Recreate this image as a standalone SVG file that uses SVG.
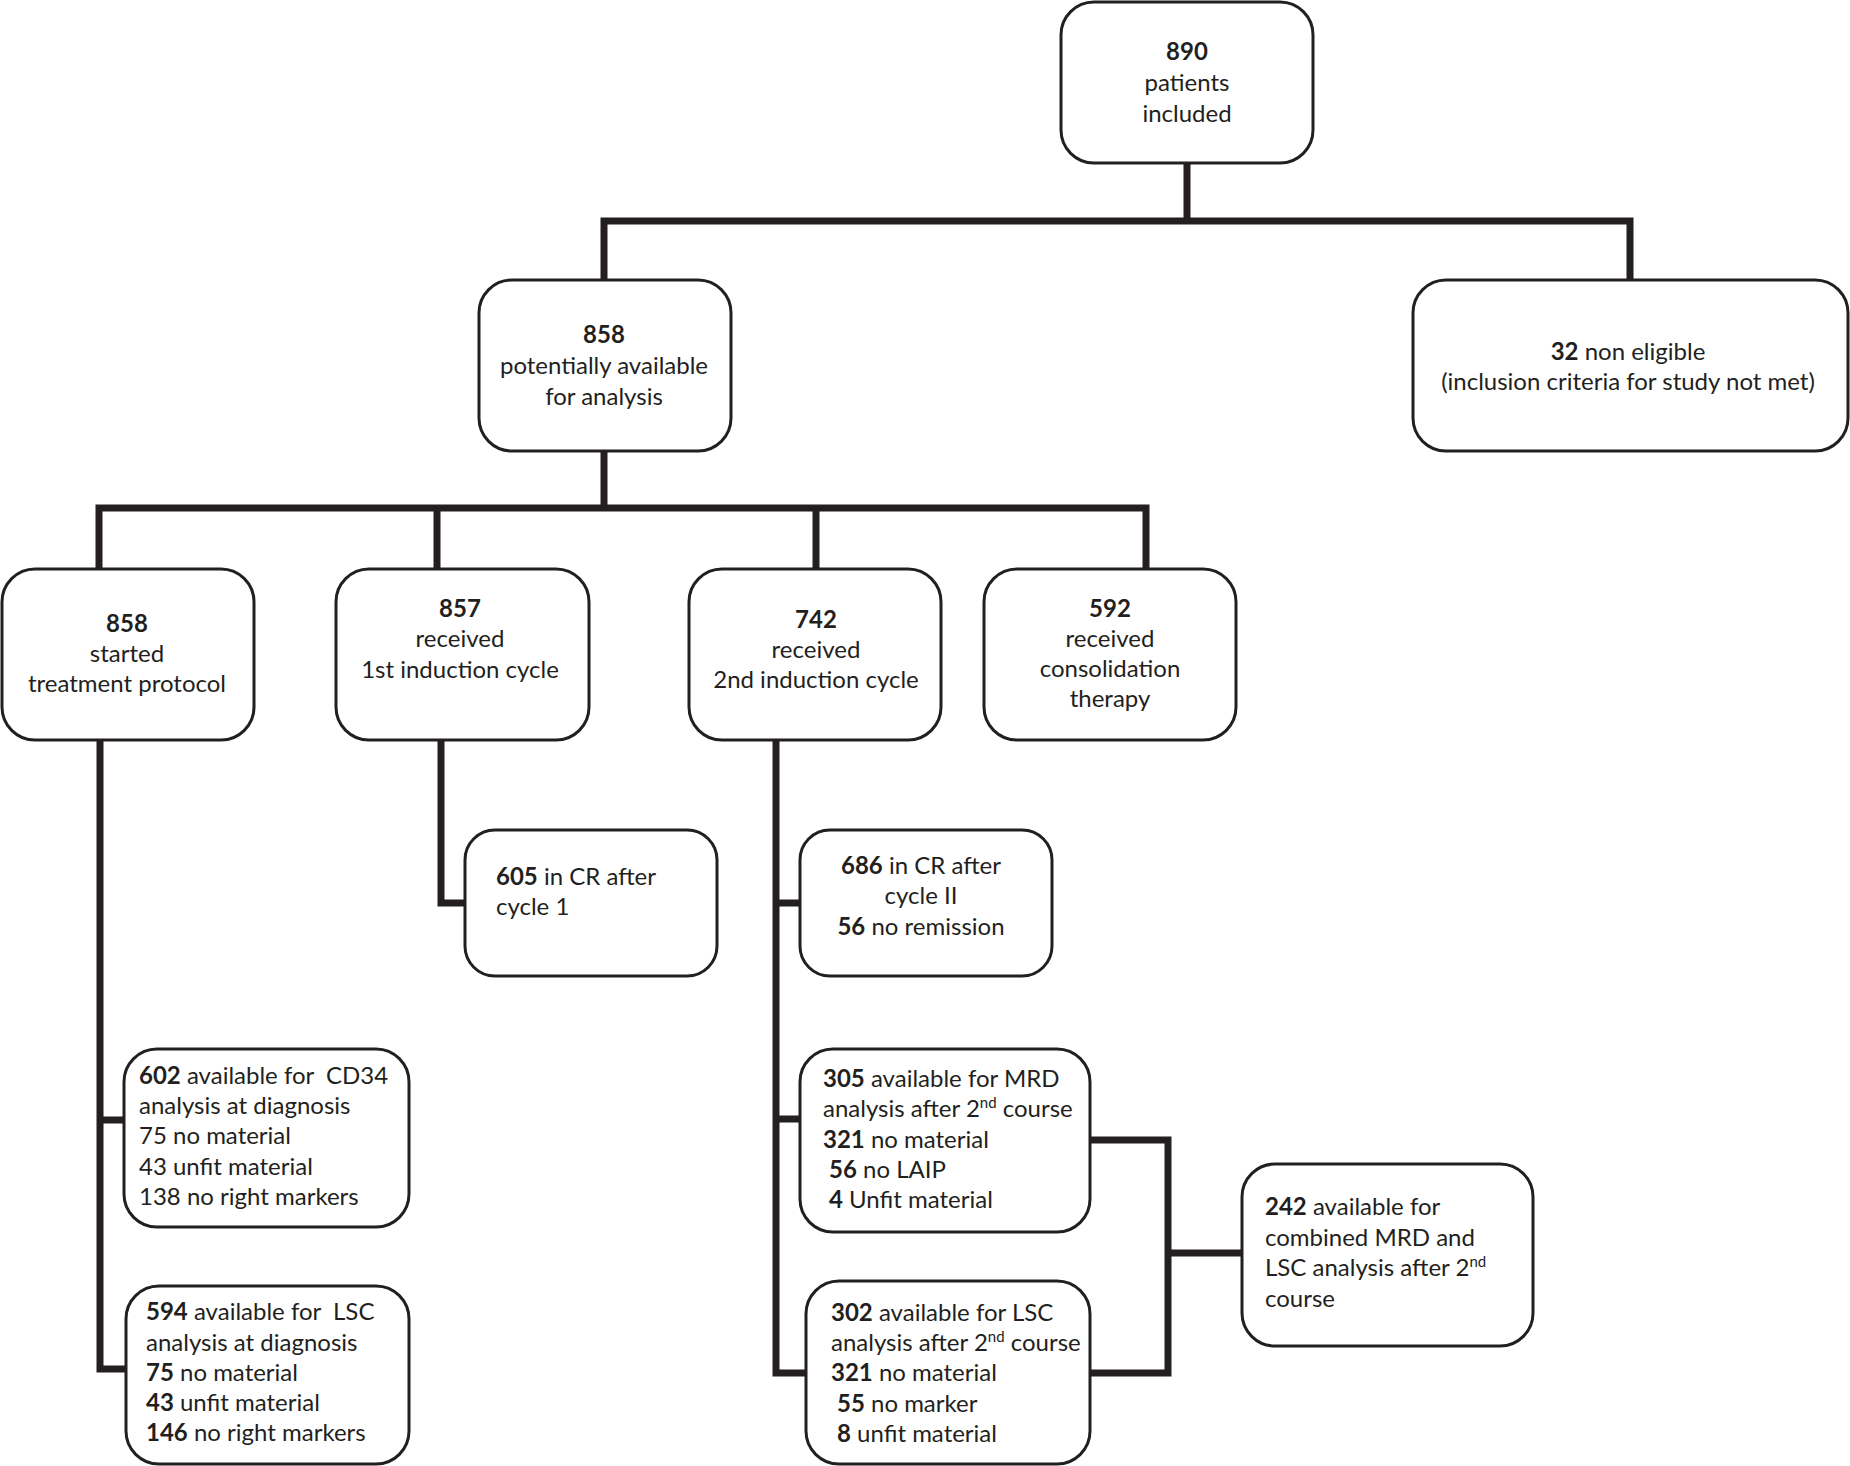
<svg xmlns="http://www.w3.org/2000/svg" width="1850" height="1466" viewBox="0 0 1850 1466">
<style>
.box{fill:#fff;stroke:#231f20;stroke-width:3}
.conn{fill:none;stroke:#231f20;stroke-width:7;stroke-linecap:square}
text{font-family:Lato,"Open Sans","Liberation Sans",sans-serif;font-size:24px;fill:#231f20;white-space:pre}
.c{text-anchor:middle}
.b{font-weight:bold}
.sup{font-size:15px}
</style>
<rect width="1850" height="1466" fill="#fff"/>
<g id="connectors">
<path class="conn" d="M1187 163 V221 M604 280 V221 H1630 V280"/>
<path class="conn" d="M604 451 V508 M99 569 V508 H1146 V569 M437 508 V569 M816 508 V569"/>
<path class="conn" d="M100 740 V1369 H126 M100 1120 H124"/>
<path class="conn" d="M441 740 V903 H465"/>
<path class="conn" d="M776 740 V1373 H806 M776 903 H800 M776 1119 H800"/>
<path class="conn" d="M1090 1140 H1168 V1373 H1090 M1168 1253 H1242"/>
</g>
<g id="n890">
<rect class="box" x="1061" y="2" width="252" height="161" rx="33"/>
<text class="c b" x="1187" y="60">890</text>
<text class="c" x="1187" y="91">patients</text>
<text class="c" x="1187" y="122">included</text>
</g>
<g id="n858a">
<rect class="box" x="479" y="280" width="252" height="171" rx="33"/>
<text class="c b" x="604" y="343">858</text>
<text class="c" x="604" y="374">potentially available</text>
<text class="c" x="604" y="405">for analysis</text>
</g>
<g id="n32">
<rect class="box" x="1413" y="280" width="435" height="171" rx="33"/>
<text class="c" x="1628" y="360"><tspan class="b">32</tspan> non eligible</text>
<text class="c" x="1628" y="390">(inclusion criteria for study not met)</text>
</g>
<g id="n858b">
<rect class="box" x="2" y="569" width="252" height="171" rx="33"/>
<text class="c b" x="127" y="632">858</text>
<text class="c" x="127" y="662">started</text>
<text class="c" x="127" y="692">treatment protocol</text>
</g>
<g id="n857">
<rect class="box" x="336" y="569" width="253" height="171" rx="33"/>
<text class="c b" x="460" y="617">857</text>
<text class="c" x="460" y="647">received</text>
<text class="c" x="460" y="678">1st induction cycle</text>
</g>
<g id="n742">
<rect class="box" x="689" y="569" width="252" height="171" rx="33"/>
<text class="c b" x="816" y="628">742</text>
<text class="c" x="816" y="658">received</text>
<text class="c" x="816" y="688">2nd induction cycle</text>
</g>
<g id="n592">
<rect class="box" x="984" y="569" width="252" height="171" rx="33"/>
<text class="c b" x="1110" y="617">592</text>
<text class="c" x="1110" y="647">received</text>
<text class="c" x="1110" y="677">consolidation</text>
<text class="c" x="1110" y="707">therapy</text>
</g>
<g id="n605">
<rect class="box" x="465" y="830" width="252" height="146" rx="30"/>
<text x="496" y="885"><tspan class="b">605</tspan> in CR after</text>
<text x="496" y="915">cycle 1</text>
</g>
<g id="n686">
<rect class="box" x="800" y="830" width="252" height="146" rx="30"/>
<text class="c" x="921" y="874"><tspan class="b">686</tspan> in CR after</text>
<text class="c" x="921" y="904">cycle II</text>
<text class="c" x="921" y="935"><tspan class="b">56</tspan> no remission</text>
</g>
<g id="n602">
<rect class="box" x="124" y="1049" width="285" height="178" rx="33"/>
<text x="139" y="1084"><tspan class="b">602</tspan> available for  CD34</text>
<text x="139" y="1114">analysis at diagnosis</text>
<text x="139" y="1144">75 no material</text>
<text x="139" y="1175">43 unfit material</text>
<text x="139" y="1205">138 no right markers</text>
</g>
<g id="n594">
<rect class="box" x="126" y="1286" width="283" height="178" rx="33"/>
<text x="146" y="1320"><tspan class="b">594</tspan> available for  LSC</text>
<text x="146" y="1351">analysis at diagnosis</text>
<text x="146" y="1381"><tspan class="b">75</tspan> no material</text>
<text x="146" y="1411"><tspan class="b">43</tspan> unfit material</text>
<text x="146" y="1441"><tspan class="b">146</tspan> no right markers</text>
</g>
<g id="n305">
<rect class="box" x="800" y="1049" width="290" height="183" rx="33"/>
<text x="823" y="1087"><tspan class="b">305</tspan> available for MRD</text>
<text x="823" y="1117">analysis after 2<tspan class="sup" dy="-9">nd</tspan><tspan dy="9"> course</tspan></text>
<text x="823" y="1148"><tspan class="b">321</tspan> no material</text>
<text x="829" y="1178"><tspan class="b">56</tspan> no LAIP</text>
<text x="829" y="1208"><tspan class="b">4</tspan> Unfit material</text>
</g>
<g id="n302">
<rect class="box" x="806" y="1281" width="284" height="183" rx="33"/>
<text x="831" y="1321"><tspan class="b">302</tspan> available for LSC</text>
<text x="831" y="1351">analysis after 2<tspan class="sup" dy="-9">nd</tspan><tspan dy="9"> course</tspan></text>
<text x="831" y="1381"><tspan class="b">321</tspan> no material</text>
<text x="837" y="1412"><tspan class="b">55</tspan> no marker</text>
<text x="837" y="1442"><tspan class="b">8</tspan> unfit material</text>
</g>
<g id="n242">
<rect class="box" x="1242" y="1164" width="291" height="182" rx="33"/>
<text x="1265" y="1215"><tspan class="b">242</tspan> available for</text>
<text x="1265" y="1246">combined MRD and</text>
<text x="1265" y="1276">LSC analysis after 2<tspan class="sup" dy="-9">nd</tspan></text>
<text x="1265" y="1307">course</text>
</g>
</svg>
